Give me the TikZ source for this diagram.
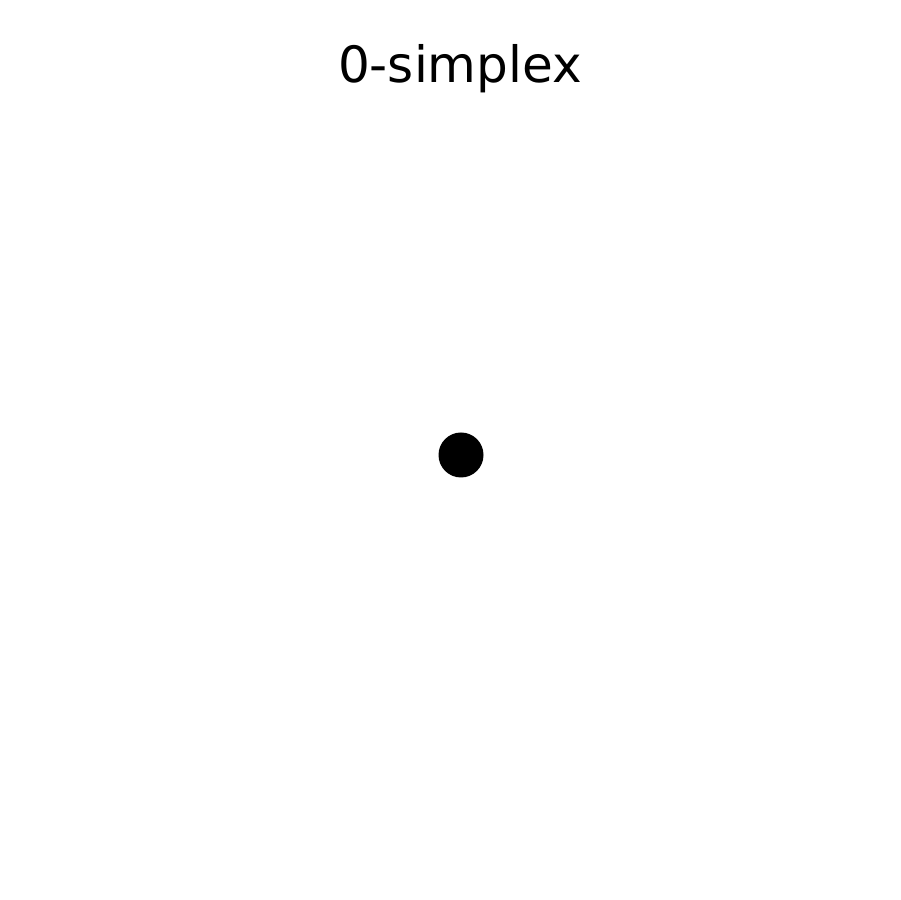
\documentclass[tikz,border=0pt]{standalone}
\usepackage{fontspec}
\setmainfont{DejaVu Sans}
\usepackage{tikz}

\begin{document}
\begin{tikzpicture}
\def\s{0.02}
\useasboundingbox (0,0) rectangle (900*\s,900*\s);
\node[font=\fontsize{28.5}{32}\selectfont] (title) at (460*\s,900*\s-69*\s) {0-simplex};
\node[circle, fill=black, inner sep=0pt, minimum size=45*\s cm] (v0) at (461*\s,900*\s-455*\s) {};
\end{tikzpicture}
\end{document}
